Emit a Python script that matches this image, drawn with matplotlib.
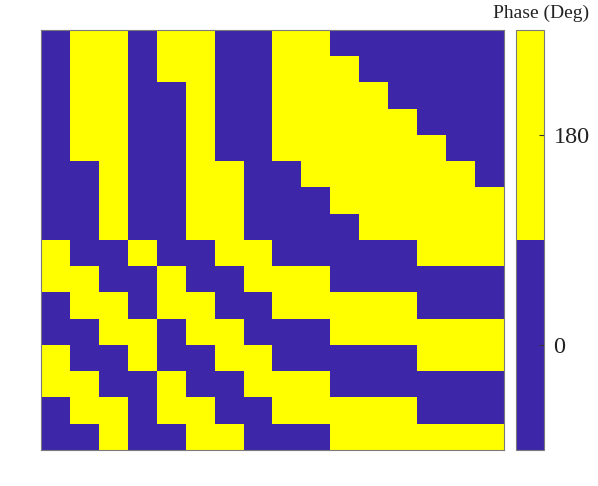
import matplotlib
matplotlib.use("Agg")
import matplotlib.pyplot as plt
import numpy as np
from matplotlib.colors import ListedColormap, Normalize

# Phase (degrees) of each cell, row 0 = top row
phase_deg = [
    [0, 180, 180, 0, 180, 180, 0, 0, 180, 180, 0, 0, 0, 0, 0, 0],
    [0, 180, 180, 0, 180, 180, 0, 0, 180, 180, 180, 0, 0, 0, 0, 0],
    [0, 180, 180, 0, 0, 180, 0, 0, 180, 180, 180, 180, 0, 0, 0, 0],
    [0, 180, 180, 0, 0, 180, 0, 0, 180, 180, 180, 180, 180, 0, 0, 0],
    [0, 180, 180, 0, 0, 180, 0, 0, 180, 180, 180, 180, 180, 180, 0, 0],
    [0, 0, 180, 0, 0, 180, 180, 0, 0, 180, 180, 180, 180, 180, 180, 0],
    [0, 0, 180, 0, 0, 180, 180, 0, 0, 0, 180, 180, 180, 180, 180, 180],
    [0, 0, 180, 0, 0, 180, 180, 0, 0, 0, 0, 180, 180, 180, 180, 180],
    [180, 0, 0, 180, 0, 0, 180, 180, 0, 0, 0, 0, 0, 180, 180, 180],
    [180, 180, 0, 0, 180, 0, 0, 180, 180, 180, 0, 0, 0, 0, 0, 0],
    [0, 180, 180, 0, 180, 180, 0, 0, 180, 180, 180, 180, 180, 0, 0, 0],
    [0, 0, 180, 180, 0, 180, 180, 0, 0, 0, 180, 180, 180, 180, 180, 180],
    [180, 0, 0, 180, 0, 0, 180, 180, 0, 0, 0, 0, 0, 180, 180, 180],
    [180, 180, 0, 0, 180, 0, 0, 180, 180, 180, 0, 0, 0, 0, 0, 0],
    [0, 180, 180, 0, 180, 180, 0, 0, 180, 180, 180, 180, 180, 0, 0, 0],
    [0, 0, 180, 0, 0, 180, 180, 0, 0, 0, 180, 180, 180, 180, 180, 180],
]
cbar_ticks = [0, 180]
cbar_range = (-90, 270)
cbar_label = "Phase (Deg)"

BLUE = "#3E26A8"
YELLOW = "#FFFF00"
EDGE = "#7a7a7a"
FONT = ["Liberation Serif", "DejaVu Serif"]

W, H = 598, 486
fig = plt.figure(figsize=(W / 100, H / 100), dpi=100)

ax_l, ax_r, ax_t, ax_b = 41.3, 503.7, 30.3, 450.3
ax = fig.add_axes([ax_l / W, 1 - ax_b / H, (ax_r - ax_l) / W, (ax_b - ax_t) / H])

data = np.array(phase_deg, dtype=float)
cmap = ListedColormap([BLUE, YELLOW])
norm = Normalize(vmin=cbar_range[0], vmax=cbar_range[1])
im = ax.imshow(data, cmap=cmap, norm=norm, aspect="auto",
               interpolation="nearest", origin="upper")
ax.set_xticks([])
ax.set_yticks([])
for s in ax.spines.values():
    s.set_color(EDGE)
    s.set_linewidth(0.8)

cb_l, cb_r = 516.0, 543.7
cax = fig.add_axes([cb_l / W, 1 - ax_b / H, (cb_r - cb_l) / W, (ax_b - ax_t) / H])
cb = fig.colorbar(im, cax=cax, ticks=cbar_ticks)
cb.outline.set_edgecolor(EDGE)
cb.outline.set_linewidth(0.8)
cax.tick_params(direction="in", length=3.5, width=0.8, color="#333333",
                labelsize=17.5, pad=7)
for lab in cax.get_yticklabels():
    lab.set_fontfamily(FONT)
    lab.set_color("#222222")

fig.text(589 / W, 1 - 18 / H, cbar_label, ha="right", va="baseline",
         fontsize=14, family=FONT, color="#222222")

fig.savefig("out.png", dpi=100)
